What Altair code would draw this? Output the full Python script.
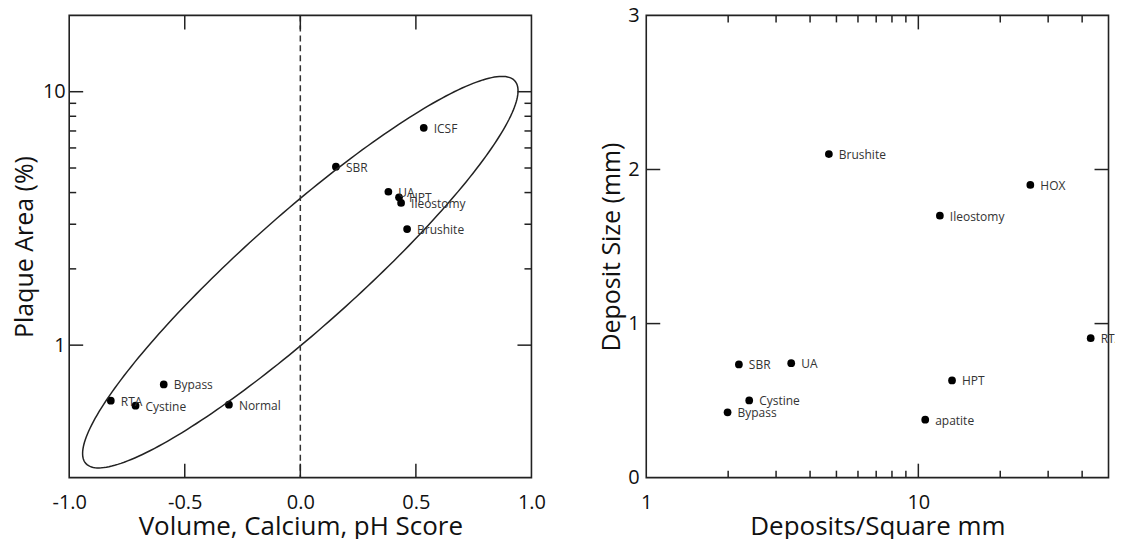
import altair as alt
import numpy as np
import pandas as pd

# ---------------- data ----------------
left_names = ["ICSF", "SBR", "UA", "HPT", "Ileostomy", "Brushite", "Bypass", "RTA", "Cystine", "Normal"]
left_score = [0.534, 0.154, 0.381, 0.427, 0.436, 0.462, -0.591, -0.820, -0.713, -0.309]
left_plaque = [7.2, 5.06, 4.03, 3.83, 3.64, 2.87, 0.700, 0.604, 0.577, 0.582]

right_names = ["Brushite", "HOX", "Ileostomy", "RTA", "SBR", "UA", "HPT", "Cystine", "Bypass", "apatite"]
right_density = [4.69, 25.8, 12.0, 43.0, 2.19, 3.41, 13.3, 2.39, 1.99, 10.6]
right_size = [2.10, 1.90, 1.70, 0.905, 0.735, 0.743, 0.631, 0.501, 0.424, 0.376]

# ellipse (in x, log10(y) space): centre and two conjugate semi-axis vectors
ell_center = [0.0, 0.288]
ell_axis_a = [0.942, 0.7155]
ell_axis_b = [0.0, -0.291]

# tick values
left_x_labels = [-1.0, -0.5, 0.0, 0.5, 1.0]
left_x_inner = [-0.5, 0.0, 0.5]
left_y_labels = [1, 10]
left_y_minor = [2, 3, 4, 5, 6, 7, 8, 9]
right_x_labels = [1, 10]
right_x_major = [10]
right_x_minor = [2, 3, 4, 5, 6, 7, 8, 9, 20, 30, 40]
right_y_labels = [0, 1, 2, 3]
right_y_inner = [1, 2]
zero_line = [0.0]

W = 463
H = 463
MAJ = 14
MIN = 7
INK = "#222222"
FONT = "Open Sans"

df_left = pd.DataFrame({"name": left_names, "x": left_score, "y": left_plaque})
df_right = pd.DataFrame({"name": right_names, "x": right_density, "y": right_size})

t = np.linspace(0, 2 * np.pi, 241)
ell_x = ell_center[0] + ell_axis_a[0] * np.cos(t) + ell_axis_b[0] * np.sin(t)
ell_v = ell_center[1] + ell_axis_a[1] * np.cos(t) + ell_axis_b[1] * np.sin(t)
df_ell = pd.DataFrame({"x": ell_x, "y": 10 ** ell_v, "i": np.arange(len(t))})

# ---------------- scales & axes ----------------
xs_l = alt.Scale(domain=[-1, 1], nice=False, zero=False)
ys_l = alt.Scale(type="log", domain=[0.3, 20], nice=False)
xs_r = alt.Scale(type="log", domain=[1, 50], nice=False)
ys_r = alt.Scale(domain=[0, 3], nice=False, zero=False)

ax_x_l = alt.Axis(values=left_x_labels, title="Volume, Calcium, pH Score",
                  labelExpr="(datum.value < 0 ? '-' : '') + format(abs(datum.value), '.1f')",
                  labelFlush=False, labelPadding=15, titlePadding=0.5, titleFontSize=26)
ax_y_l = alt.Axis(values=left_y_labels, title="Plaque Area (%)", format="d",
                  labelPadding=4, titlePadding=5.1, titleFontSize=25)
ax_x_r = alt.Axis(values=right_x_labels, title="Deposits/Square mm", format="d",
                  labelFlush=False, labelPadding=15, titlePadding=0.5, titleFontSize=26)
ax_y_r = alt.Axis(values=right_y_labels, title="Deposit Size (mm)", format="d",
                  labelPadding=7, titlePadding=3.8, titleFontSize=25)


def tick_rules(values, xsc, ysc, xax, yax, channel, length, side):
    d = pd.DataFrame({"v": values})
    enc = {}
    if channel == "x":
        enc["x"] = alt.X("v:Q", scale=xsc, axis=xax)
        if side == "start":
            enc["y"] = alt.value(0)
            enc["y2"] = alt.value(length)
        else:
            enc["y"] = alt.value(H)
            enc["y2"] = alt.value(H - length)
    else:
        enc["y"] = alt.Y("v:Q", scale=ysc, axis=yax)
        if side == "start":
            enc["x"] = alt.value(0)
            enc["x2"] = alt.value(length)
        else:
            enc["x"] = alt.value(W)
            enc["x2"] = alt.value(W - length)
    return alt.Chart(d).mark_rule(color=INK, strokeWidth=1.5).encode(**enc)


# ---------------- left panel ----------------
pts_l = alt.Chart(df_left).mark_circle(size=60, color="black", opacity=1).encode(
    x=alt.X("x:Q", scale=xs_l, axis=ax_x_l),
    y=alt.Y("y:Q", scale=ys_l, axis=ax_y_l),
)
txt_l = alt.Chart(df_left).mark_text(align="left", baseline="middle", dx=10, dy=1,
                                      fontSize=12, font=FONT, color="#333333").encode(
    x=alt.X("x:Q", scale=xs_l, axis=ax_x_l),
    y=alt.Y("y:Q", scale=ys_l, axis=ax_y_l),
    text="name:N",
)
ell = alt.Chart(df_ell).mark_line(color=INK, strokeWidth=1.5).encode(
    x=alt.X("x:Q", scale=xs_l, axis=ax_x_l),
    y=alt.Y("y:Q", scale=ys_l, axis=ax_y_l),
    order="i:Q",
)
dash = alt.Chart(pd.DataFrame({"v": zero_line})).mark_rule(
    color="#333333", strokeWidth=1.5, strokeDash=[6, 4]).encode(
    x=alt.X("v:Q", scale=xs_l, axis=ax_x_l))

L = dict(xsc=xs_l, ysc=ys_l, xax=ax_x_l, yax=ax_y_l)
left = alt.layer(
    pts_l, ell, dash,
    tick_rules(left_x_inner, channel="x", length=MAJ, side="start", **L),
    tick_rules(left_x_inner, channel="x", length=MAJ, side="end", **L),
    tick_rules(left_y_labels, channel="y", length=MAJ, side="start", **L),
    tick_rules(left_y_labels, channel="y", length=MAJ, side="end", **L),
    tick_rules(left_y_minor, channel="y", length=MIN, side="start", **L),
    tick_rules(left_y_minor, channel="y", length=MIN, side="end", **L),
    txt_l,
).properties(width=W, height=H)

# ---------------- right panel ----------------
pts_r = alt.Chart(df_right).mark_circle(size=60, color="black", opacity=1).encode(
    x=alt.X("x:Q", scale=xs_r, axis=ax_x_r),
    y=alt.Y("y:Q", scale=ys_r, axis=ax_y_r),
)
txt_r = alt.Chart(df_right).mark_text(align="left", baseline="middle", dx=10, dy=1,
                                       fontSize=12, font=FONT, color="#333333").encode(
    x=alt.X("x:Q", scale=xs_r, axis=ax_x_r),
    y=alt.Y("y:Q", scale=ys_r, axis=ax_y_r),
    text="name:N",
)

R = dict(xsc=xs_r, ysc=ys_r, xax=ax_x_r, yax=ax_y_r)
right = alt.layer(
    pts_r,
    tick_rules(right_x_major, channel="x", length=MAJ, side="start", **R),
    tick_rules(right_x_major, channel="x", length=MAJ, side="end", **R),
    tick_rules(right_x_minor, channel="x", length=MIN, side="start", **R),
    tick_rules(right_x_minor, channel="x", length=MIN, side="end", **R),
    tick_rules(right_y_inner, channel="y", length=MAJ, side="start", **R),
    tick_rules(right_y_inner, channel="y", length=MAJ, side="end", **R),
    txt_r,
).properties(width=W, height=H)

chart = alt.hconcat(left, right, spacing=115, bounds="flush").properties(
    padding={"left": 3.3, "top": -4, "right": -8.5, "bottom": -2.5}
).configure_view(
    stroke=INK, strokeWidth=1.6
).configure_axis(
    labelFont=FONT, titleFont=FONT, labelFontSize=20,
    labelColor="#111111", titleColor="#111111", titleFontWeight="normal",
    grid=False, ticks=False, domain=False, tickSize=0,
)

chart.save("out.html", embed_options={"renderer": "svg", "actions": False})
